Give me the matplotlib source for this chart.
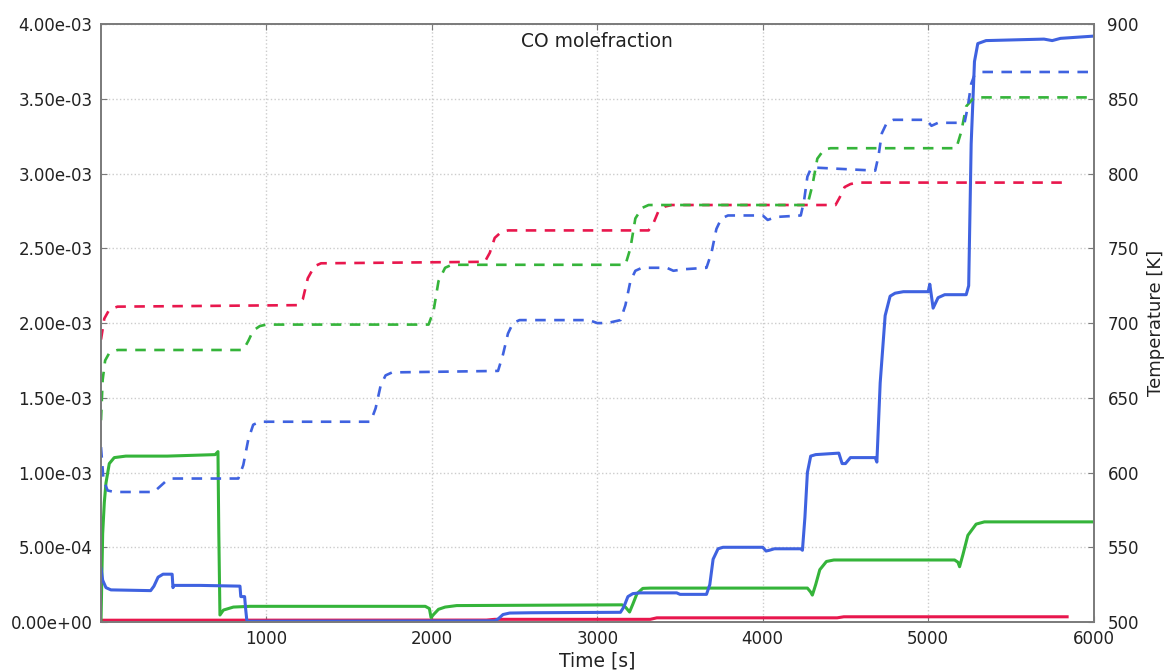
import numpy as np
import matplotlib
matplotlib.use("Agg")
import matplotlib.pyplot as plt
from matplotlib.ticker import FuncFormatter

# CO mole fraction (solid, left axis), values in 1e-3
co_red_t = [0, 2330, 2380, 3320, 3360, 4450, 4490, 5840]
co_red = [0.012, 0.013, 0.018, 0.018, 0.028, 0.028, 0.035, 0.035]

co_green_t = [0, 10, 20, 30, 50, 80, 150, 400, 690, 707,
              712, 719, 740, 800, 900,
              1960, 1985, 1995, 2010, 2040, 2080, 2150,
              3150, 3170, 3195, 3215, 3240, 3275, 3320,
              4270, 4290, 4300, 4320, 4345, 4385, 4430,
              5160, 5180, 5190, 5210, 5240, 5290, 5340, 6000]
co_green = [0, 0.59, 0.80, 0.93, 1.06, 1.10, 1.11, 1.11, 1.12, 1.14,
            0.60, 0.047, 0.08, 0.10, 0.105,
            0.105, 0.09, 0.03, 0.05, 0.085, 0.10, 0.11,
            0.115, 0.10, 0.067, 0.12, 0.19, 0.225, 0.227,
            0.227, 0.20, 0.18, 0.25, 0.35, 0.405, 0.415,
            0.415, 0.40, 0.37, 0.45, 0.58, 0.655, 0.67, 0.67]

co_blue_t = [0, 10, 30, 60,
             300, 320, 345, 375, 430, 435, 440, 600,
             840, 845, 868, 875, 882, 1000,
             2380, 2400, 2430, 2470, 2600,
             3140, 3160, 3185, 3215, 3260,
             3480, 3500,
             3660, 3680, 3700, 3730, 3760,
             4000, 4020, 4040, 4070,
             4230, 4240, 4255, 4270, 4290, 4320,
             4460, 4480, 4500, 4530, 4560,
             4680, 4690, 4710, 4740, 4770, 4800, 4850,
             5000, 5010, 5030, 5060, 5100,
             5230, 5245, 5260, 5280, 5300, 5350,
             5700, 5750, 5800, 6000]
co_blue = [0.36, 0.28, 0.23, 0.215,
           0.21, 0.24, 0.30, 0.32, 0.32, 0.23, 0.245, 0.245,
           0.24, 0.17, 0.17, 0.08, 0.005, 0.005,
           0.008, 0.02, 0.05, 0.06, 0.062,
           0.065, 0.10, 0.17, 0.19, 0.195,
           0.195, 0.185,
           0.185, 0.25, 0.42, 0.49, 0.50,
           0.50, 0.475, 0.48, 0.49,
           0.49, 0.48, 0.7, 1.0, 1.11, 1.12,
           1.13, 1.06, 1.06, 1.10, 1.10,
           1.10, 1.07, 1.6, 2.05, 2.18, 2.20, 2.21,
           2.21, 2.26, 2.10, 2.17, 2.19,
           2.19, 2.25, 3.2, 3.75, 3.87, 3.89,
           3.90, 3.89, 3.905, 3.92]

# Temperature (dashed, right axis), K
T_red_t = [0, 20, 50, 100, 1190, 1220, 1250, 1290, 1330,
           2320, 2350, 2380, 2420, 2460, 3310, 3340, 3370, 3410, 3450,
           4440, 4465, 4495, 4530, 4570, 5840]
T_red = [689, 703, 709, 711, 712, 716, 730, 738, 740,
         741, 747, 757, 761, 762, 762, 767, 775, 778, 779,
         779, 784, 791, 793, 794, 794]

T_green_t = [0, 10, 25, 50, 100, 860, 890, 920, 960, 1000,
             1980, 2010, 2040, 2080, 2120, 3170, 3200, 3230, 3270, 3310,
             4270, 4300, 4330, 4370, 4410, 5170, 5200, 5230, 5270, 5310, 6000]
T_green = [635, 662, 675, 680, 682, 682, 688, 695, 698, 699,
           699, 708, 728, 737, 739, 739, 750, 770, 777, 779,
           779, 792, 810, 816, 817, 817, 828, 845, 850, 851, 851]

T_blue_t = [0, 15, 40, 80, 320, 350, 390, 430, 470, 830, 860, 890, 920, 960,
            1630, 1660, 1690, 1720, 1760, 2400, 2430, 2460, 2490, 2530,
            2950, 3000, 3060, 3140, 3170, 3200, 3230, 3270, 3420, 3460, 3520,
            3660, 3690, 3720, 3750, 3790, 4000, 4030, 4080,
            4230, 4250, 4270, 4290, 4320, 4680, 4700, 4720, 4750, 4790,
            4990, 5020, 5060, 5220, 5240, 5260, 5280, 5320, 6000]
T_blue = [617, 595, 588, 587, 587, 590, 594, 596, 596, 596, 605, 622, 632, 634,
          634, 643, 658, 665, 667, 668, 679, 693, 700, 702,
          702, 700, 700, 702, 712, 728, 735, 737, 737, 735, 736,
          737, 747, 763, 770, 772, 772, 769, 771,
          772, 782, 798, 803, 804, 802, 812, 827, 834, 836,
          836, 832, 834, 834, 845, 860, 866, 868, 868]

x_ticks = [1000, 2000, 3000, 4000, 5000, 6000]
left_ticks = np.arange(0, 4.01e-3, 0.5e-3)
right_ticks = np.arange(500, 901, 50)

blue = '#3f62e0'
green = '#35b43a'
red = '#e8174d'
spine_col = '#7a7a7a'

fig = plt.figure(figsize=(11.65, 6.71), dpi=100)
ax = fig.add_axes([0.0867, 0.073, 0.852, 0.891])
ax2 = ax.twinx()

lw = 2.2
ax.plot(co_red_t, np.array(co_red) * 1e-3, color=red, lw=lw, solid_joinstyle='round')
ax.plot(co_green_t, np.array(co_green) * 1e-3, color=green, lw=lw, solid_joinstyle='round')
ax.plot(co_blue_t, np.array(co_blue) * 1e-3, color=blue, lw=lw, solid_joinstyle='round')

dash = (4, 3.2)
ax2.plot(T_red_t, T_red, color=red, lw=1.9, ls='--', dashes=dash)
ax2.plot(T_green_t, T_green, color=green, lw=1.9, ls='--', dashes=dash)
ax2.plot(T_blue_t, T_blue, color=blue, lw=1.9, ls='--', dashes=dash)

ax.set_xlim(0, 6000)
ax.set_ylim(0, 4e-3)
ax2.set_ylim(500, 900)
ax.set_xticks(x_ticks)
ax.set_yticks(left_ticks)
ax2.set_yticks(right_ticks)
ax.yaxis.set_major_formatter(FuncFormatter(lambda v, p: '%.2e' % v))

ax.grid(True, ls=':', color='#cccccc', lw=1.0)

ax.tick_params(axis='both', direction='in', labelsize=12, length=4,
               color=spine_col, top=True, labelcolor='#222222')
ax.tick_params(axis='x', pad=6)
ax.tick_params(axis='y', pad=6)
ax2.tick_params(axis='y', direction='in', labelsize=12, length=4, pad=10,
                color=spine_col, labelcolor='#222222')

for a in (ax, ax2):
    for s in a.spines.values():
        s.set_color(spine_col)
        s.set_linewidth(1.2)

ax.set_xlabel('Time [s]', fontsize=13.5, labelpad=2, color='#222222')
ax2.set_ylabel('Temperature [K]', fontsize=13, labelpad=6, color='#222222')
ax.text(0.5, 0.987, 'CO molefraction', transform=ax.transAxes,
        ha='center', va='top', fontsize=13.5, color='#222222')

fig.savefig('out.png', dpi=100)
